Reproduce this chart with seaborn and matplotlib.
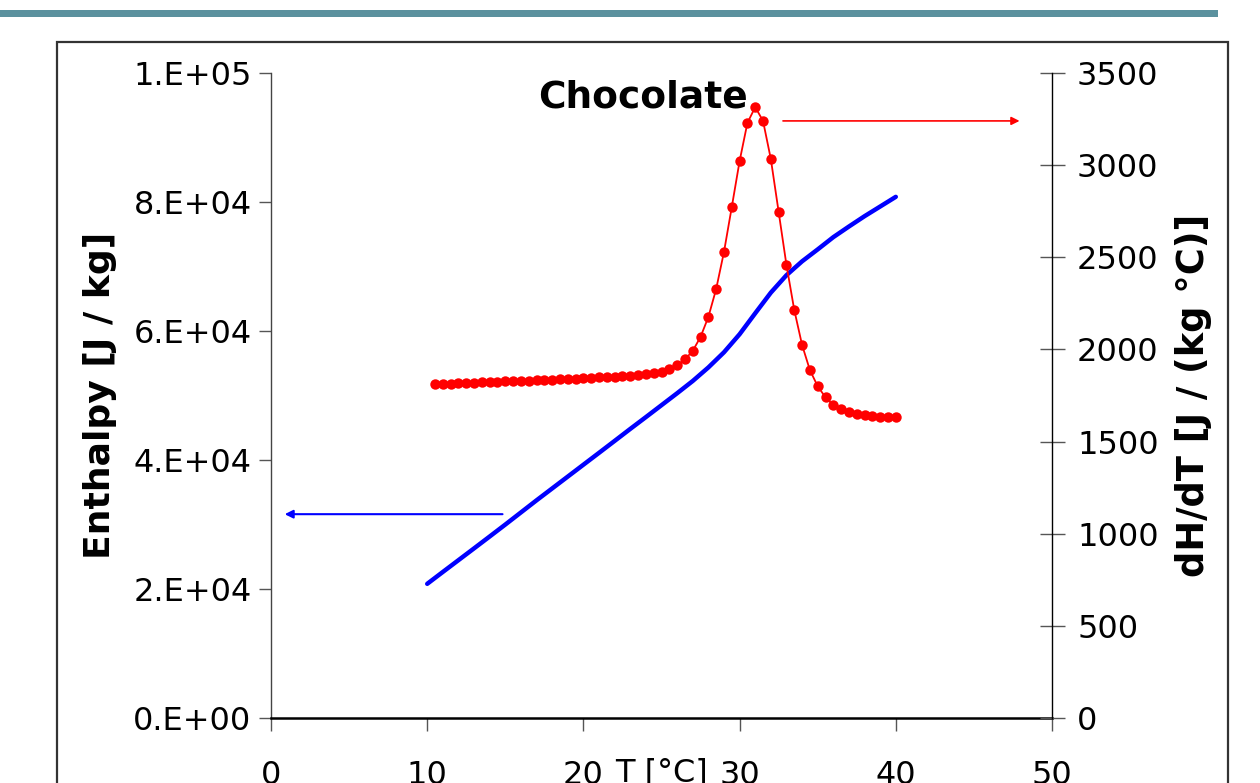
import numpy as np
import matplotlib
matplotlib.use("Agg")
import matplotlib.pyplot as plt
from matplotlib.patches import Rectangle
import seaborn as sns

# temperaturas dos pontos de cp (passo 0.5 °C)
temp_cp = [10.5, 11, 11.5, 12, 12.5, 13, 13.5, 14, 14.5, 15, 15.5, 16, 16.5, 17,
           17.5, 18, 18.5, 19, 19.5, 20, 20.5, 21, 21.5, 22, 22.5, 23, 23.5, 24,
           24.5, 25, 25.5, 26, 26.5, 27, 27.5, 28, 28.5, 29, 29.5, 30, 30.5, 31,
           31.5, 32, 32.5, 33, 33.5, 34, 34.5, 35, 35.5, 36, 36.5, 37, 37.5, 38,
           38.5, 39, 39.5, 40]
# dH/dT [J / (kg °C)]
dhdt = [1812, 1813, 1815, 1817, 1818, 1820, 1822, 1823, 1825, 1826, 1828, 1829,
        1831, 1832, 1834, 1836, 1838, 1840, 1842, 1844, 1846, 1848, 1850, 1852,
        1855, 1858, 1861, 1865, 1871, 1879, 1893, 1913, 1946, 1992, 2068, 2176,
        2328, 2529, 2773, 3022, 3229, 3315, 3240, 3033, 2746, 2458, 2214, 2024,
        1888, 1800, 1740, 1698, 1675, 1659, 1650, 1644, 1639, 1635, 1633, 1632]

# entalpia [J / kg]
temp_h = [10, 11, 12, 13, 14, 15, 16, 17, 18, 19, 20, 21, 22, 23, 24, 25, 26, 27,
          28, 29, 30, 31, 32, 33, 34, 35, 36, 37, 38, 39, 40]
enthalpy = [20800, 22640, 24470, 26300, 28140, 29990, 31870, 33750, 35590, 37430,
            39270, 41110, 42960, 44820, 46650, 48500, 50350, 52250, 54350, 56700,
            59500, 62750, 65950, 68650, 70800, 72650, 74550, 76200, 77800, 79300,
            80800]

x_ticks = [0, 10, 20, 30, 40, 50]
y_ticks = [0, 20000, 40000, 60000, 80000, 100000]
y_tick_labels = ["0.E+00", "2.E+04", "4.E+04", "6.E+04", "8.E+04", "1.E+05"]
y2_ticks = [0, 500, 1000, 1500, 2000, 2500, 3000, 3500]

sns.set_theme(style="white")
plt.rcParams['font.family'] = ['DejaVu Sans']
plt.rcParams['text.color'] = 'black'
plt.rcParams['axes.labelcolor'] = 'black'
plt.rcParams['xtick.color'] = 'black'
plt.rcParams['ytick.color'] = 'black'

fig = plt.figure(figsize=(12.6, 7.83), dpi=100)
ax = fig.add_axes([271 / 1260, 65 / 783, 781 / 1260, 645 / 783])
ax2 = ax.twinx()

# curva de entalpia (azul)
sns.lineplot(x=temp_h, y=enthalpy, ax=ax, color="blue", lw=3.2)
# curva de dH/dT (vermelho, com pontos)
sns.lineplot(x=temp_cp, y=dhdt, ax=ax2, color="red", lw=1.3, marker="o",
             markersize=7.5, markeredgewidth=0, markerfacecolor="red")

ax.set_xlim(0, 50)
ax.set_ylim(0, 100000)
ax2.set_ylim(0, 3500)
ax.set_xticks(x_ticks)
ax.set_xticklabels([str(v) for v in x_ticks])
ax.set_yticks(y_ticks)
ax.set_yticklabels(y_tick_labels)
ax2.set_yticks(y2_ticks)
ax2.set_yticklabels([str(v) for v in y2_ticks])

for a in (ax, ax2):
    a.spines['top'].set_visible(False)
    a.set_facecolor("none")
ax.spines['right'].set_visible(False)
ax2.spines['left'].set_visible(False)
ax2.spines['bottom'].set_visible(False)
ax.spines['left'].set_color("#444444")
ax.spines['left'].set_linewidth(1.0)
ax.spines['bottom'].set_color("black")
ax.spines['bottom'].set_linewidth(1.8)
ax2.spines['right'].set_color("black")
ax2.spines['right'].set_linewidth(1.0)

ax.tick_params(axis='y', direction='out', length=9, width=1, color="#555555",
               labelsize=23, pad=5, left=True, labelcolor="black")
ax.tick_params(axis='x', direction='out', length=9, width=1, color="#555555",
               labelsize=23, pad=21, bottom=True, labelcolor="black")
ax2.tick_params(axis='y', direction='inout', length=18, width=1, color="#555555",
                labelsize=23, pad=9, right=True, labelcolor="black")

ax.set_ylabel("Enthalpy [J / kg]", fontsize=26, fontweight="bold", labelpad=12,
              color="black")
ax2.set_ylabel("dH/dT [J / (kg °C)]", fontsize=26.5, fontweight="bold", labelpad=12,
               color="black")
ax.set_xlabel("T [°C]", fontsize=23, color="black")
ax.xaxis.set_label_coords(0.5, -0.062)

ax.text(0.476, 0.946, "Chocolate", transform=ax.transAxes, ha="center",
        va="baseline", fontsize=27, fontweight="bold", color="black")

# setas indicando o eixo de cada curva
ax2.annotate("", xy=(48.1, 3240), xytext=(32.6, 3240),
             arrowprops=dict(arrowstyle="-|>", color="red", lw=1.2, mutation_scale=12))
ax.annotate("", xy=(0.7, 31600), xytext=(15.0, 31600),
            arrowprops=dict(arrowstyle="-|>", color="blue", lw=1.5, mutation_scale=12))

# moldura e faixa superior
fig.add_artist(Rectangle((57 / 1260, -0.05), (1228 - 57) / 1260, 0.05 + 1 - 42 / 783,
                         transform=fig.transFigure, fill=False, lw=1.6,
                         edgecolor="#333333"))
fig.add_artist(Rectangle((0, 1 - 17 / 783), 1218 / 1260, 7 / 783,
                         transform=fig.transFigure, color="#5B919E", lw=0))

fig.savefig("out.png", dpi=100)
